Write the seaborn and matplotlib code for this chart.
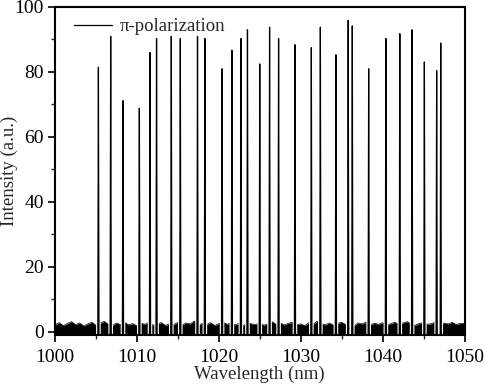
import matplotlib
matplotlib.use("Agg")
import matplotlib.pyplot as plt
import seaborn as sns
import pandas as pd
import numpy as np
from matplotlib.ticker import MultipleLocator
from matplotlib.lines import Line2D

sns.set_theme(style="ticks")
plt.rcParams['font.family'] = ['Liberation Serif', 'DejaVu Serif']

# peak centres (nm) and peak intensities
peak_nm = [1005.3, 1006.8, 1008.3, 1010.3, 1011.6, 1012.4, 1014.2, 1015.3,
           1017.4, 1018.3, 1020.4, 1021.6, 1022.7, 1023.5, 1025.0, 1026.2,
           1027.3, 1029.3, 1031.3, 1032.4, 1034.3, 1035.8, 1036.3, 1038.3,
           1040.4, 1042.1, 1043.6, 1045.1, 1046.6, 1047.1]
peak_height = [81.4, 90.9, 71.1, 68.8, 85.9, 90.2, 90.9, 90.2,
               90.9, 90.2, 80.9, 86.6, 90.2, 92.9, 82.4, 93.7,
               90.2, 88.3, 87.4, 93.7, 85.2, 95.8, 94.1, 80.9,
               90.2, 91.7, 92.9, 83.0, 80.3, 88.8]

# noise floor top, every 0.5 nm from 1000 to 1050
floor_nm = np.linspace(1000, 1050, 101)
floor_top = [2.1, 2.8, 1.9, 2.5, 3.1, 2.2, 2.7, 1.8, 2.4, 2.9,
             2.0, 2.6, 3.2, 2.3, 1.9, 2.7, 2.2, 2.9, 2.1, 2.5,
             1.8, 2.6, 2.3, 3.0, 2.0, 2.4, 2.8, 1.9, 2.5, 2.2,
             2.9, 2.1, 2.7, 2.4, 3.3, 2.0, 2.6, 2.2, 2.8, 1.9,
             2.5, 3.0, 2.3, 2.7, 2.1, 2.6, 1.9, 2.9, 2.4, 2.2,
             2.8, 2.0, 2.5, 3.1, 2.3, 2.7, 2.1, 2.6, 2.9, 2.2,
             2.4, 1.9, 2.8, 2.3, 3.2, 2.5, 2.1, 2.7, 2.0, 2.6,
             2.9, 2.2, 2.5, 1.8, 2.7, 2.4, 3.0, 2.1, 2.6, 2.3,
             2.8, 2.0, 2.5, 2.9, 2.2, 2.7, 3.1, 2.4, 2.0, 2.6,
             2.8, 2.3, 2.5, 3.2, 2.1, 2.7, 2.4, 2.9, 2.2, 2.6, 2.5]

BASE = -1.0
HW = 0.07

rows = []
for i, (p, h) in enumerate(zip(peak_nm, peak_height)):
    rows += [(i, p - HW, BASE), (i, p, h), (i, p + HW, BASE)]
peaks = pd.DataFrame(rows, columns=['peak', 'wl', 'intensity'])

fig = plt.figure(figsize=(4.84, 3.88), dpi=100)
ax = fig.add_axes([55 / 484, 1 - 335 / 388, 409.5 / 484, 328.3 / 388])

ax.fill_between(floor_nm, BASE, floor_top, color='black', lw=0)
ax.plot(floor_nm, floor_top, color='black', lw=0.5)

sns.lineplot(data=peaks, x='wl', y='intensity', units='peak', estimator=None,
             sort=False, color='white', lw=2.5, ax=ax)
sns.lineplot(data=peaks, x='wl', y='intensity', units='peak', estimator=None,
             sort=False, color='black', lw=0.9, ax=ax)

ax.set_xlim(1000, 1050)
ax.set_ylim(BASE, 100)
ax.xaxis.set_major_locator(MultipleLocator(10))
ax.xaxis.set_minor_locator(MultipleLocator(5))
ax.yaxis.set_major_locator(MultipleLocator(20))
ax.yaxis.set_minor_locator(MultipleLocator(10))
ax.tick_params(which='major', direction='out', length=5, width=1.2, labelsize=14,
               colors='black', pad=3)
ax.tick_params(axis='x', which='major', pad=5)
ax.tick_params(which='minor', direction='out', length=3, width=1.0)
for s in ax.spines.values():
    s.set_linewidth(1.5)
    s.set_color('black')

ax.set_xlabel("Wavelength (nm)", fontsize=13.5, labelpad=0)
ax.set_ylabel("Intensity (a.u.)", fontsize=13.5)
ax.yaxis.set_label_coords(-37 / 409.5, 0.5)

handle = Line2D([], [], color='black', lw=0.9)
ax.legend([handle], ['π-polarization'], loc='upper left', frameon=False,
          fontsize=13.5, bbox_to_anchor=(19 / 409.5, 0.965), handlelength=2.0,
          handletextpad=0.45, borderaxespad=0, borderpad=0)

fig.savefig("out.png", dpi=100)
